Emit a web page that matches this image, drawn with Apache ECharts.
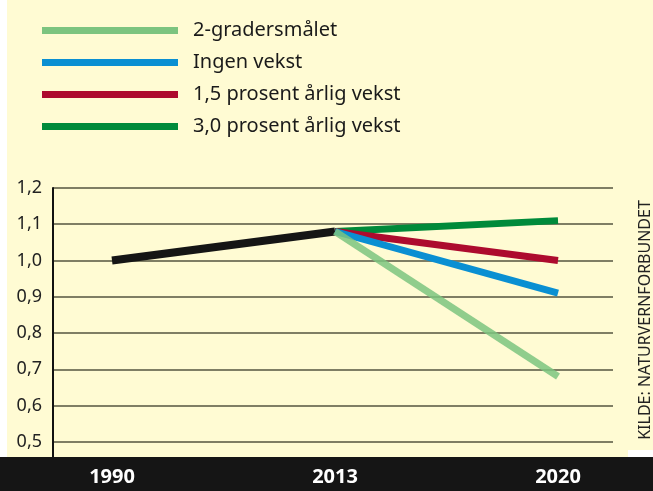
<!DOCTYPE html>
<html>
<head>
<meta charset="utf-8">
<script src="https://cdn.jsdelivr.net/npm/echarts@6/dist/echarts.min.js"></script>
<style>
  html, body { margin: 0; padding: 0; background: #fff; }
  #chart { width: 653px; height: 491px; }
</style>
</head>
<body>
<div id="chart"></div>
<script>
// data (index 1 = 1990 -> 2013 -> 2020)
const years = ["1990", "2013", "2020"]
const history = [1.0, 1.08]               // 1990, 2013
const scenarioNames = ["2-gradersmålet", "Ingen vekst", "1,5 prosent årlig vekst", "3,0 prosent årlig vekst"]
const scenario2020 = [0.68, 0.91, 1.0, 1.11]
const scenarioColors = ["#7cc47f", "#0a8fd2", "#ad0b2e", "#008a3a"]
const yTicks = [0.5, 0.6, 0.7, 0.8, 0.9, 1.0, 1.1, 1.2]

const font = "Noto Sans"
const chart = echarts.init(document.getElementById("chart"))

const scenarioSeries = scenarioNames.map((name, i) => ({
  name: name,
  type: "line",
  symbol: "none",
  silent: true,
  z: i === 0 ? 6 : 4,
  data: [[1, history[1]], [2, scenario2020[i]]],
  lineStyle: { color: scenarioColors[i], width: 7, cap: "butt", opacity: i === 0 ? 0.85 : 1 },
  itemStyle: { color: scenarioColors[i] }
}))
// draw order: 3,0 / 1,5 / ingen vekst below, 2-graders on top
const drawOrder = [3, 2, 1, 0].map(i => scenarioSeries[i])

chart.setOption({
  backgroundColor: "#fff",
  animation: false,
  graphic: {
    elements: [
      { type: "rect", z: -10, shape: { x: 7, y: 0, width: 646, height: 457 }, style: { fill: "#fffbd3" } },
      { type: "rect", z: 1, shape: { x: 0, y: 457, width: 653, height: 34 }, style: { fill: "#151515" } },
      { type: "rect", z: 1, shape: { x: 628, y: 450, width: 25, height: 7 }, style: { fill: "#fff" } },
      {
        type: "text", z: 5, x: 645, y: 320, rotation: Math.PI / 2,
        style: { text: "KILDE: NATURVERNFORBUNDET", fontFamily: font, fontSize: 16, fill: "#222", align: "center", verticalAlign: "middle" }
      }
    ]
  },
  legend: {
    data: scenarioNames,
    orient: "vertical",
    left: 37,
    top: 14,
    itemWidth: 136,
    itemHeight: 7,
    itemGap: 9,
    icon: "rect",
    selectedMode: false,
    textStyle: { fontFamily: font, fontSize: 20, color: "#1a1a1a", lineHeight: 23, padding: [0, 0, 0, 10] }
  },
  grid: { left: 53, right: 40, top: 188, bottom: 13 },
  xAxis: {
    type: "value",
    min: -0.2646,
    max: 2.2466,
    z: 5,
    axisLine: { show: false },
    axisTick: { show: false },
    splitLine: { show: false },
    axisLabel: {
      customValues: [0, 1, 2],
      formatter: v => years[Math.round(v)],
      color: "#fff",
      fontFamily: font,
      fontWeight: "bold",
      fontSize: 20,
      verticalAlign: "middle",
      margin: -1
    }
  },
  yAxis: {
    type: "value",
    min: 0.4,
    max: 1.2,
    interval: 0.1,
    axisLine: { show: true, onZero: false, lineStyle: { color: "#111", width: 2 } },
    axisTick: { show: false },
    splitLine: { lineStyle: { color: "#55553f", width: 1.5 } },
    axisLabel: {
      formatter: v => yTicks.some(t => Math.abs(t - v) < 1e-6) ? v.toFixed(1).replace(".", ",") : "",
      color: "#222",
      fontFamily: font,
      fontSize: 18,
      margin: 11
    }
  },
  series: [
    {
      name: "historikk",
      type: "line",
      symbol: "none",
      silent: true,
      z: 3,
      data: history.map((v, i) => [i, v]),
      lineStyle: { color: "#151515", width: 8, cap: "butt" }
    }
  ].concat(drawOrder)
})
</script>
</body>
</html>
